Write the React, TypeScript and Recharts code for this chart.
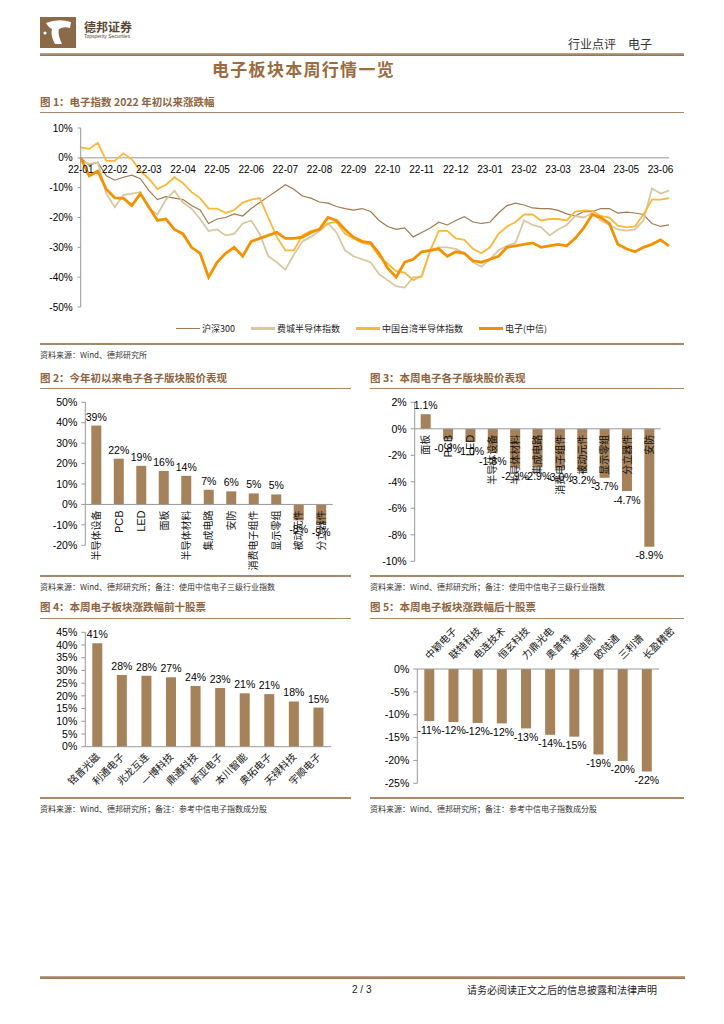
import React from "react";
import {
  LineChart,
  Line,
  BarChart,
  Bar,
  XAxis,
  YAxis,
  ReferenceLine,
  ReferenceDot,
  LabelList,
} from "recharts";

const CJK = '"Noto Sans CJK SC", "Noto Sans", sans-serif';
const NUM = '"Liberation Sans", Arial, sans-serif';
const BAR = "#A6825A";
const TITLE = "#8E6440";
const RULE = "#A88868";
const AXIS = "#999";

// 图1：电子指数 2022 年初以来涨跌幅（每 1/4 月一点）
const monthLabels = [
  "22-01", "22-02", "22-03", "22-04", "22-05", "22-06", "22-07", "22-08", "22-09",
  "22-10", "22-11", "22-12", "23-01", "23-02", "23-03", "23-04", "23-05", "23-06",
];
const hs300 = [
  0, -2.5, -1.5, -6, -7.5, -6.5, -5.8, -7, -11, -14, -13, -13.5,
  -14, -16, -17.5, -22, -20.5, -20, -18.8, -19.5, -17, -15, -13, -11,
  -9, -10.5, -12.8, -13.5, -14.8, -15.2, -16.3, -17, -17.5, -17, -18, -21,
  -23, -24, -23.5, -26.5, -25, -23.5, -21.6, -22.5, -21, -19.7, -21.5, -22,
  -21.6, -18.5, -16, -15.2, -15.8, -16.8, -17, -17, -17.6, -18.8, -19.5, -18,
  -18, -17, -17, -18.5, -18.2, -18.5, -19, -22, -23, -22.5,
];
const phlxSemi = [
  -1, -2, -1.5, -12, -16.5, -12.5, -12, -11.5, -17, -19, -14, -11,
  -15, -17, -20.5, -24.5, -24, -26, -25.5, -22, -21, -25.5, -33, -35,
  -37.5, -32.5, -28, -26.5, -24.5, -22, -25, -31, -33, -34, -35, -39,
  -41, -43, -43.5, -40, -40, -31, -30, -30, -30.5, -32, -35, -36.5,
  -34, -31, -29.5, -28.5, -21, -22.5, -23.3, -26, -24, -22.5, -19.5, -20,
  -18.5, -21, -22.5, -24, -24.4, -24, -21, -10.3, -12, -11,
];
const twSemi = [
  3.5, 3, 5, -1, -1, 1.5, -0.5, -4.5, -7, -10.5, -9, -6.5,
  -8.5, -11.5, -13.5, -17, -17, -18.5, -17.5, -15, -14, -13.5, -20, -26.5,
  -31, -31, -26, -24.5, -24, -22, -21.5, -25.5, -27, -28.5, -29, -33,
  -35.5, -38, -38.5, -41, -39.5, -31, -24.5, -24.5, -27, -27.5, -30.5, -32,
  -30, -25.5, -23, -21.5, -19, -19, -21, -20.5, -20.5, -21, -18, -17.6,
  -17.8, -19.5, -20, -22.7, -23.3, -23, -19, -14, -14, -13.5,
];
const elecCitic = [
  0, -6, -4.5, -10.5, -13.4, -13.5, -16, -12, -16.5, -21, -20.5, -24,
  -25.5, -30, -32, -40, -35, -32, -30, -33, -28, -27, -26, -25,
  -27, -27, -26.6, -25, -24, -20, -21, -24, -26.6, -28, -28.5, -32,
  -37, -40, -35, -34, -31.5, -31, -30.5, -33, -31.5, -32, -34.5, -35,
  -34, -33, -30, -29.5, -29, -28.5, -30, -29.5, -29, -29.5, -27, -23.5,
  -19, -20, -22, -29, -30.5, -31.5, -30, -29, -27.5, -29.5,
];
const fig1Ticks = [10, 0, -10, -20, -30, -40, -50];

// 图2：今年初以来电子各子版块股价表现
const ytdSectors = ["半导体设备", "PCB", "LED", "面板", "半导体材料", "集成电路", "安防", "消费电子组件", "显示零组", "被动元件", "分立器件"];
const ytdChange = [38.6, 22.4, 18.9, 16.4, 14.0, 7.2, 6.4, 5.4, 4.9, -7.8, -9.4];
const fig2Ticks = [50, 40, 30, 20, 10, 0, -10, -20];

// 图3：本周电子各子版块股价表现
const weekSectors = ["面板", "PCB", "LED", "半导体设备", "半导体材料", "集成电路", "消费电子组件", "被动元件", "显示零组", "分立器件", "安防"];
const weekChange = [1.1, -0.8, -1.0, -1.8, -2.9, -2.9, -3.0, -3.2, -3.7, -4.7, -8.9];
const fig3Ticks = [2, 0, -2, -4, -6, -8, -10];

// 图4：本周涨幅前十
const topStocks = ["铭普光磁", "利通电子", "兆龙互连", "一博科技", "鼎通科技", "新亚电子", "本川智能", "奥拓电子", "天禄科技", "宇顺电子"];
const topChange = [40.7, 28.2, 27.9, 27.3, 23.9, 23.1, 21.0, 20.7, 17.8, 15.4];
const fig4Ticks = [0, 5, 10, 15, 20, 25, 30, 35, 40, 45];

// 图5：本周跌幅前十
const bottomStocks = ["中颖电子", "联特科技", "电连技术", "恒玄科技", "力鼎光电", "奥普特", "来迪凯", "欧陆通", "三利谱", "长盈精密"];
const bottomChange = [-11.4, -11.6, -11.8, -11.9, -13.0, -14.4, -14.8, -18.7, -20.1, -22.4];
const fig5Ticks = [0, -5, -10, -15, -20, -25];

const lineData = hs300.map((v, i) => ({
  i,
  hs300: v,
  phlx: phlxSemi[i],
  tw: twSemi[i],
  elec: elecCitic[i],
}));
const ytdData = ytdSectors.map((name, i) => ({ name, v: ytdChange[i] }));
const weekData = weekSectors.map((name, i) => ({ name, v: weekChange[i] }));
const topData = topStocks.map((name, i) => ({ name, v: topChange[i] }));
const bottomData = bottomStocks.map((name, i) => ({ name, v: bottomChange[i] }));

const legendItems = [
  { name: "沪深300", color: "#A07A52", w: 1.5 },
  { name: "费城半导体指数", color: "#D9C7A0", w: 2.5 },
  { name: "中国台湾半导体指数", color: "#F9B83A", w: 2.5 },
  { name: "电子(中信)", color: "#F39200", w: 3.5 },
];

const pct = (v: number) => `${v}%`;
const yTick = { fontSize: 10.5, fill: "#000", fontFamily: NUM };
const isLatin = (s: string) => /^[A-Za-z0-9]+$/.test(s);

const Abs = ({ left, top, style, children }: any) => (
  <div style={{ position: "absolute", left, top, whiteSpace: "nowrap", lineHeight: 1, ...style }}>{children}</div>
);

const Rule = ({ left, top, width, h = 1 }: any) => (
  <div style={{ position: "absolute", left, top, width, height: h, background: RULE }} />
);

const FigTitle = ({ left, top, children }: any) => (
  <Abs left={left} top={top} style={{ fontSize: 10.5, fontWeight: 700, color: TITLE, fontFamily: CJK }}>
    {children}
  </Abs>
);

const Source = ({ left, top, children }: any) => (
  <Abs left={left} top={top} style={{ fontSize: 8, color: "#333", fontFamily: CJK }}>
    {children}
  </Abs>
);

// month label drawn under the zero line
const monthShape = (text: string) => (p: any) => (
  <text x={p.cx} y={p.cy + 15} textAnchor="middle" fontSize={10} fontFamily={NUM} fill="#000">
    {text}
  </text>
);

// vertical category label hanging below the zero line
const vertShape = (text: string) => (p: any) => (
  <text
    x={p.cx}
    y={p.cy}
    dx={-6}
    dy={3.5}
    transform={`rotate(-90 ${p.cx} ${p.cy})`}
    textAnchor="end"
    fontSize={isLatin(text) ? 11 : 10}
    fontFamily={isLatin(text) ? NUM : CJK}
    fill="#111"
  >
    {text}
  </text>
);

const SlantTick = ({ x, y, payload, up }: any) => (
  <text
    x={x}
    y={y}
    dy={up ? 0 : 4}
    transform={`rotate(-45 ${x} ${y})`}
    textAnchor={up ? "start" : "end"}
    fontSize={10}
    fontFamily={CJK}
    fill="#111"
  >
    {payload.value}
  </text>
);

const Logo = () => (
  <svg width={36} height={31} style={{ position: "absolute", left: 40, top: 17 }}>
    <rect width={36} height={31} fill="#8B6A4A" />
    <path d="M6 6 Q18 1 31 5 L30 11 Q24 9 19 12 Q17 16 22 27 L15 27 Q10 18 12 12 Q9 11 6 6 Z" fill="#fff" />
    <circle cx={5} cy={16} r={1.6} fill="#fff" />
  </svg>
);

export default function App() {
  return (
    <div style={{ position: "relative", width: 724, height: 1024, background: "#fff", overflow: "hidden", fontFamily: CJK }}>
      <style>{"body{margin:0}"}</style>

      {/* header */}
      <Logo />
      <Abs left={84} top={21} style={{ fontSize: 12, fontWeight: 700, color: "#5a4632" }}>德邦证券</Abs>
      <Abs left={84} top={34} style={{ fontSize: 5, color: "#5a4632", fontFamily: NUM }}>Topsperity Securities</Abs>
      <Abs left={568} top={38} style={{ fontSize: 12, color: "#333" }}>
        行业点评<span style={{ marginLeft: 12 }}>电子</span>
      </Abs>
      <div style={{ position: "absolute", left: 40, top: 53, width: 644, height: 2.5, background: "linear-gradient(#c4ab90, #8d6b4a)" }} />
      <Abs left={212} top={60} style={{ fontSize: 17, fontWeight: 700, color: "#9A6A40", letterSpacing: 1.3 }}>
        电子板块本周行情一览
      </Abs>

      {/* figure 1 */}
      <FigTitle left={40} top={97}>图 1：电子指数 2022 年初以来涨跌幅</FigTitle>
      <Rule left={40} top={112} width={644} />
      <div style={{ position: "absolute", left: 40, top: 118 }}>
        <LineChart width={643} height={200} data={lineData} margin={{ top: 10, right: 14, bottom: 11, left: 0 }}>
          <XAxis type="number" dataKey="i" domain={[0, 69]} hide />
          <YAxis
            domain={[-50, 10]}
            ticks={fig1Ticks}
            interval={0}
            tickFormatter={pct}
            width={40.7}
            axisLine={{ stroke: AXIS }}
            tickLine={{ stroke: AXIS }}
            tickSize={3}
            tickMargin={5}
            tick={{ ...yTick, fontSize: 10 }}
          />
          <ReferenceLine y={0} stroke={AXIS} />
          {monthLabels.map((m, k) => (
            <ReferenceDot key={m} x={k * 4} y={0} r={1} shape={monthShape(m)} />
          ))}
          <Line dataKey="hs300" stroke="#A07A52" strokeWidth={1.2} dot={false} isAnimationActive={false} />
          <Line dataKey="phlx" stroke="#D9C7A0" strokeWidth={1.8} dot={false} isAnimationActive={false} />
          <Line dataKey="tw" stroke="#F9B83A" strokeWidth={1.8} dot={false} isAnimationActive={false} />
          <Line dataKey="elec" stroke="#F39200" strokeWidth={2.8} dot={false} isAnimationActive={false} />
        </LineChart>
      </div>
      <div style={{ position: "absolute", left: 40, top: 322, width: 643, display: "flex", justifyContent: "center", gap: 16 }}>
        {legendItems.map((it) => (
          <div key={it.name} style={{ display: "flex", alignItems: "center", fontSize: 9, color: "#222" }}>
            <div style={{ width: 24, height: it.w, background: it.color, marginRight: 2 }} />
            {it.name}
          </div>
        ))}
      </div>
      <Rule left={40} top={343} width={644} h={1.5} />
      <Source left={40} top={351}>资料来源：Wind、德邦研究所</Source>

      {/* figure 2 */}
      <FigTitle left={40} top={373}>图 2：今年初以来电子各子版块股价表现</FigTitle>
      <Rule left={40} top={388} width={311} />
      <div style={{ position: "absolute", left: 40, top: 395 }}>
        <BarChart width={311} height={180} data={ytdData} margin={{ top: 7.3, right: 18.3, bottom: 29.7, left: 0 }}>
          <XAxis dataKey="name" hide />
          <YAxis
            domain={[-20, 50]}
            ticks={fig2Ticks}
            interval={0}
            tickFormatter={pct}
            width={45.3}
            axisLine={{ stroke: AXIS }}
            tickLine={{ stroke: AXIS }}
            tickSize={4}
            tickMargin={4}
            tick={yTick}
          />
          <Bar dataKey="v" fill={BAR} barSize={10} isAnimationActive={false}>
            <LabelList dataKey="v" position="top" offset={5} formatter={(v: any) => `${Number(v).toFixed(0)}%`} fontSize={10.5} fontFamily={NUM} fill="#000" />
          </Bar>
          <ReferenceLine y={0} stroke={AXIS} />
          {ytdSectors.map((s) => (
            <ReferenceDot key={s} x={s} y={0} r={1} shape={vertShape(s)} />
          ))}
        </BarChart>
      </div>
      <Rule left={40} top={575} width={311} h={1.5} />
      <Source left={40} top={583}>资料来源：Wind、德邦研究所；备注：使用中信电子三级行业指数</Source>

      {/* figure 3 */}
      <FigTitle left={370} top={373}>图 3：本周电子各子版块股价表现</FigTitle>
      <Rule left={370} top={388} width={314} />
      <div style={{ position: "absolute", left: 366, top: 395 }}>
        <BarChart width={317} height={180} data={weekData} margin={{ top: 7.3, right: 22.3, bottom: 13.7, left: 0 }}>
          <XAxis dataKey="name" hide />
          <YAxis
            domain={[-10, 2]}
            ticks={fig3Ticks}
            interval={0}
            tickFormatter={pct}
            width={48.7}
            axisLine={{ stroke: AXIS }}
            tickLine={{ stroke: AXIS }}
            tickSize={4}
            tickMargin={4}
            tick={yTick}
          />
          <Bar dataKey="v" fill={BAR} barSize={10} isAnimationActive={false}>
            <LabelList dataKey="v" position="top" offset={5} formatter={(v: any) => `${Number(v).toFixed(1)}%`} fontSize={10.5} fontFamily={NUM} fill="#000" />
          </Bar>
          <ReferenceLine y={0} stroke={AXIS} />
          {weekSectors.map((s) => (
            <ReferenceDot key={s} x={s} y={0} r={1} shape={vertShape(s)} />
          ))}
        </BarChart>
      </div>
      <Rule left={370} top={575} width={314} h={1.5} />
      <Source left={370} top={583}>资料来源：Wind、德邦研究所；备注：使用中信电子三级行业指数</Source>

      {/* figure 4 */}
      <FigTitle left={40} top={602}>图 4：本周电子板块涨跌幅前十股票</FigTitle>
      <Rule left={40} top={618} width={311} />
      <div style={{ position: "absolute", left: 40, top: 620 }}>
        <BarChart width={311} height={180} data={topData} margin={{ top: 12.3, right: 20, bottom: 0, left: 0 }}>
          <XAxis
            dataKey="name"
            interval={0}
            height={53.3}
            axisLine={{ stroke: AXIS }}
            tickLine={false}
            tickSize={0}
            tickMargin={8}
            tick={<SlantTick />}
          />
          <YAxis
            domain={[0, 45]}
            ticks={fig4Ticks}
            interval={0}
            tickFormatter={pct}
            width={45.3}
            axisLine={{ stroke: AXIS }}
            tickLine={{ stroke: AXIS }}
            tickSize={4}
            tickMargin={4}
            tick={yTick}
          />
          <Bar dataKey="v" fill={BAR} barSize={10} isAnimationActive={false}>
            <LabelList dataKey="v" position="top" offset={5} formatter={(v: any) => `${Number(v).toFixed(0)}%`} fontSize={10.5} fontFamily={NUM} fill="#000" />
          </Bar>
        </BarChart>
      </div>
      <Rule left={40} top={797} width={311} h={1.5} />
      <Source left={40} top={805}>资料来源：Wind、德邦研究所；备注：参考中信电子指数成分股</Source>

      {/* figure 5 */}
      <FigTitle left={370} top={602}>图 5：本周电子板块涨跌幅后十股票</FigTitle>
      <Rule left={370} top={618} width={314} />
      <div style={{ position: "absolute", left: 366, top: 620 }}>
        <BarChart width={317} height={180} data={bottomData} margin={{ top: 0, right: 24, bottom: 16.7, left: 0 }}>
          <XAxis
            dataKey="name"
            orientation="top"
            interval={0}
            height={49}
            axisLine={{ stroke: AXIS }}
            tickLine={false}
            tickSize={0}
            tickMargin={9}
            tick={<SlantTick up />}
          />
          <YAxis
            domain={[-25, 0]}
            ticks={fig5Ticks}
            interval={0}
            tickFormatter={pct}
            width={51.3}
            axisLine={{ stroke: AXIS }}
            tickLine={{ stroke: AXIS }}
            tickSize={4}
            tickMargin={4}
            tick={yTick}
          />
          <Bar dataKey="v" fill={BAR} barSize={10} isAnimationActive={false}>
            <LabelList dataKey="v" position="top" offset={5} formatter={(v: any) => `${Number(v).toFixed(0)}%`} fontSize={10.5} fontFamily={NUM} fill="#000" />
          </Bar>
        </BarChart>
      </div>
      <Rule left={370} top={797} width={314} h={1.5} />
      <Source left={370} top={805}>资料来源：Wind、德邦研究所；备注：参考中信电子指数成分股</Source>

      {/* footer */}
      <div style={{ position: "absolute", left: 40, top: 976, width: 645, height: 2.5, background: "linear-gradient(#c4ab90, #8d6b4a)" }} />
      <Abs left={352} top={985} style={{ fontSize: 10, fontFamily: NUM, color: "#222" }}>2 / 3</Abs>
      <Abs left={467} top={985} style={{ fontSize: 10, color: "#222" }}>请务必阅读正文之后的信息披露和法律声明</Abs>
    </div>
  );
}
